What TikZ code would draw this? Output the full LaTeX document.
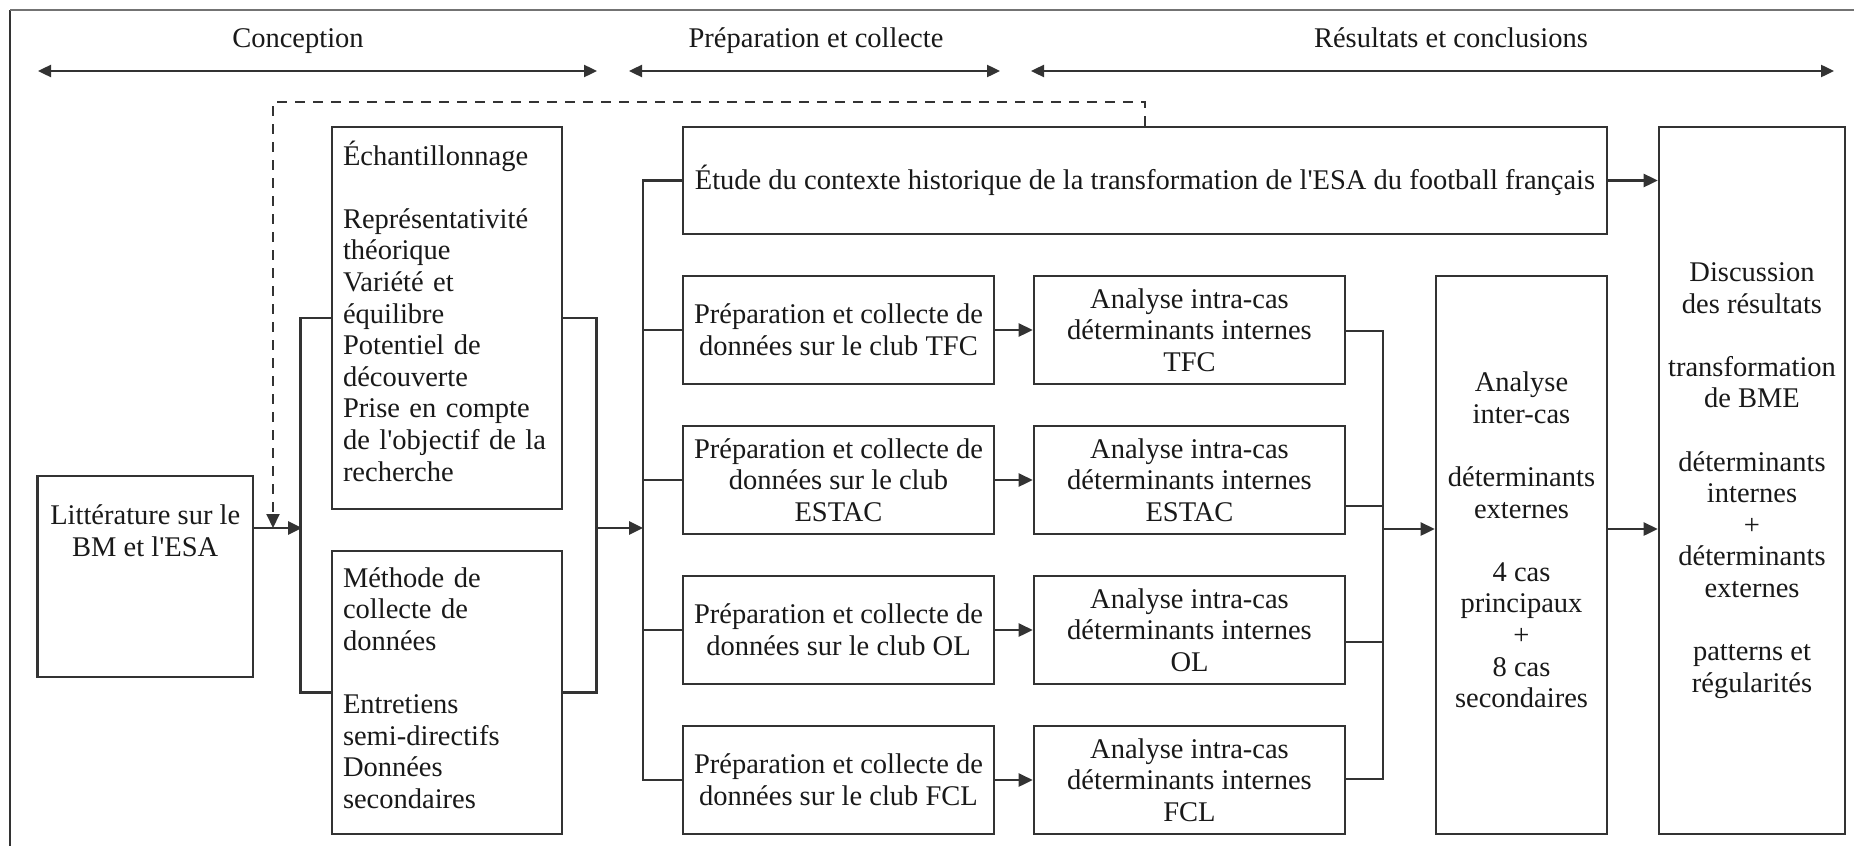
\documentclass[tikz,border=0pt]{standalone}
\usepackage{fontspec}
\setmainfont{Liberation Serif}[Ligatures=TeXOff]
\usetikzlibrary{arrows.meta}
\begin{document}
\begin{tikzpicture}[x=0.5pt,y=-0.5pt,
  every node/.style={font=\fontsize{14.25pt}{15.8pt}\selectfont, text=black!90, inner sep=0pt},
  box/.style={draw=black!80, line width=1.3pt, inner sep=0pt},
  cbox/.style={box, align=center},
  con/.style={draw=black!80, line width=1.3pt},
  arr/.style={con, -{Triangle[length=7pt,width=6.5pt]}},
  phase/.style={draw=black!80, line width=1.2pt, {Triangle[length=6.5pt,width=6pt]}-{Triangle[length=6.5pt,width=6pt]}},
  dasharr/.style={draw=black!80, line width=1pt, dash pattern=on 5pt off 4pt, -{Triangle[length=7pt,width=6.5pt]}},
  lbl/.style={align=center},
  ltxt/.style={align=left, text width=104pt}
]
\useasboundingbox (0,0) rectangle (1854,846);
\fill[white] (0,0) rectangle (1854,846);
% frame
\draw[black!80, line width=1pt] (10,846) -- (10,10);
\draw[black!55, line width=1.2pt] (10,10) -- (1854,10);

% phases
\node[anchor=base] (ph1) at (298,47) {Conception};
\node[anchor=base] (ph2) at (816,47) {Préparation et collecte};
\node[anchor=base] (ph3) at (1451,47) {Résultats et conclusions};
\coordinate (ph1a) at (38,71);  \coordinate (ph1b) at (597,71);
\coordinate (ph2a) at (629,71); \coordinate (ph2b) at (1000,71);
\coordinate (ph3a) at (1031,71);\coordinate (ph3b) at (1834,71);
\draw[phase] (ph1a) -- (ph1b);
\draw[phase] (ph2a) -- (ph2b);
\draw[phase] (ph3a) -- (ph3b);

% boxes
\node[box, minimum width=107.75pt, minimum height=100.5pt] (lit) at (145.25,576.5) {};
\node[lbl] (litt) at (145.25,531) {Littérature sur le\\BM et l'ESA};

\node[box, minimum width=115pt, minimum height=191pt] (ech) at (447,318) {};
\node[ltxt] (echt) at (447,311)
 {Échantillonnage\\[15.8pt]Représentativité\\théorique\\Variété et\\équilibre\\Potentiel de\\découverte\\Prise en compte\\de l'objectif de la\\recherche};
\node[box, minimum width=115pt, minimum height=141.5pt] (meth) at (447,692.5) {};
\node[ltxt] (metht) at (447,688)
 {Méthode de\\collecte de\\données\\[15.8pt]Entretiens\\semi-directifs\\Données\\secondaires};

\node[cbox, minimum width=462pt, minimum height=53.5pt] (etude) at (1145,180.5)
 {Étude du contexte historique de la transformation de l'ESA du football français};

\node[cbox, minimum width=155.5pt, minimum height=54pt] (p1) at (838.5,330) {Préparation et collecte de\\données sur le club TFC};
\node[cbox, minimum width=155.5pt, minimum height=54pt] (p2) at (838.5,480) {Préparation et collecte de\\données sur le club\\ESTAC};
\node[cbox, minimum width=155.5pt, minimum height=54pt] (p3) at (838.5,630) {Préparation et collecte de\\données sur le club OL};
\node[cbox, minimum width=155.5pt, minimum height=54pt] (p4) at (838.5,780) {Préparation et collecte de\\données sur le club FCL};

\node[cbox, minimum width=155.5pt, minimum height=54pt] (a1) at (1189.5,330) {Analyse intra-cas\\déterminants internes\\TFC};
\node[cbox, minimum width=155.5pt, minimum height=54pt] (a2) at (1189.5,480) {Analyse intra-cas\\déterminants internes\\ESTAC};
\node[cbox, minimum width=155.5pt, minimum height=54pt] (a3) at (1189.5,630) {Analyse intra-cas\\déterminants internes\\OL};
\node[cbox, minimum width=155.5pt, minimum height=54pt] (a4) at (1189.5,780) {Analyse intra-cas\\déterminants internes\\FCL};

\node[box, minimum width=85.5pt, minimum height=279pt] (inter) at (1521.5,555) {};
\node[lbl] (intert) at (1521.5,540)
 {Analyse\\inter-cas\\[15.8pt]déterminants\\externes\\[15.8pt]4 cas\\principaux\\+\\8 cas\\secondaires};

\node[cbox, minimum width=93pt, minimum height=353.5pt] (disc) at (1752,480.5)
 {Discussion\\des résultats\\[15.8pt]transformation\\de BME\\[15.8pt]déterminants\\internes\\+\\déterminants\\externes\\[15.8pt]patterns et\\régularités};

% dashed feedback
\coordinate (dtop) at (273,102);
\coordinate (dend) at (273,528);
\draw[dasharr] (etude.north) |- (dtop) -- (dend);

% literature to bracket
\coordinate (lb) at (302,528);
\draw[arr] (lit.east |- lb) -- (lb);
\draw[con] (ech.west) -- ++(-30,0) |- (meth.west);
\draw[con] (ech.east) -- ++(33,0) |- (meth.east);
\coordinate (rb) at (595,528);
\coordinate (bus1) at (643,180.5);
\coordinate (bus4) at (643,780);
\draw[arr] (rb) -- (rb -| bus1);

% bus
\draw[con] (etude.west) -- (bus1) -- (bus4) -- (p4.west);
\draw[con] (p1.west) -- (p1.west -| bus1);
\draw[con] (p2.west) -- (p2.west -| bus1);
\draw[con] (p3.west) -- (p3.west -| bus1);

% prep to analysis
\draw[arr] (p1.east) -- (a1.west);
\draw[arr] (p2.east) -- (a2.west);
\draw[arr] (p3.east) -- (a3.west);
\draw[arr] (p4.east) -- (a4.west);

% analysis bracket
\coordinate (y1) at (0,331);
\coordinate (y2) at (0,506);
\coordinate (y3) at (0,642);
\coordinate (y4) at (0,779);
\coordinate (br1) at (1383,331);
\coordinate (br4) at (1383,779);
\coordinate (ym) at (1383,529);
\draw[con] (a1.east |- y1) -- (br1) -- (br4) -- (a4.east |- y4);
\draw[con] (a2.east |- y2) -- (br1 |- y2);
\draw[con] (a3.east |- y3) -- (br1 |- y3);
\draw[arr] (ym) -- (inter.west |- ym);
\draw[arr] (inter.east |- ym) -- (disc.west |- ym);
\draw[arr] (etude.east) -- (disc.west |- etude.east);
\end{tikzpicture}
\end{document}
